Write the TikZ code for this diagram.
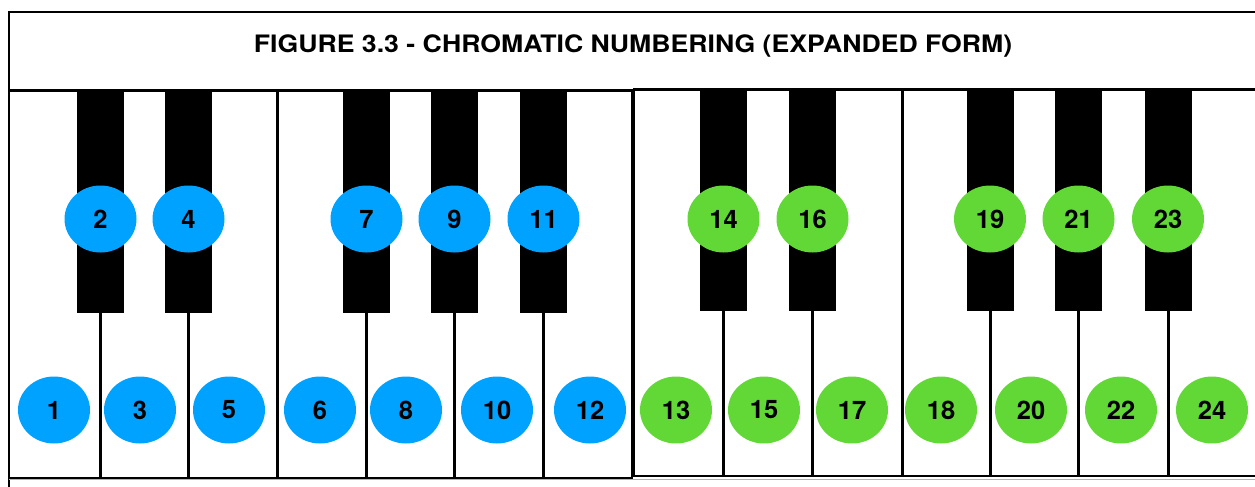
\documentclass[tikz,border=0pt]{standalone}
\usepackage{fontspec}
\setmainfont{TeX Gyre Heros}
\usetikzlibrary{positioning,shapes.geometric}
\definecolor{keyblue}{HTML}{00A2FF}
\definecolor{keygreen}{HTML}{61D836}
\tikzstyle{frame}=[draw=black,line width=2pt]
\tikzstyle{octave}=[rectangle,draw=black,line width=1.8pt,minimum height=387pt,inner sep=0pt]
\tikzstyle{blackkey}=[rectangle,fill=black,minimum width=47pt,minimum height=222pt,inner sep=0pt,anchor=north]
\tikzstyle{divider}=[draw=black,line width=3pt]
\tikzset{num/.style={ellipse,minimum width=72pt,minimum height=67pt,inner sep=0pt,
    font=\fontsize{25.5}{25.5}\selectfont\bfseries},
  bluenum/.style={num,fill=keyblue},
  greennum/.style={num,fill=keygreen}
}

\begin{document}
\begin{tikzpicture}[x=1pt,y=-1pt]
    \useasboundingbox (0,0) rectangle (1255,487);
    \clip (0,0) rectangle (1255,487);
    % title box
    \draw [frame] (9,487) -- (9,12) -- (1262,12);
    \draw [frame] (9,90) -- (1262,90);
    \draw [gray!60,line width=1.5pt] (9,479.5) -- (1262,479.5);
    \node [font=\fontsize{24}{24}\selectfont\bfseries,xscale=1.11] (title) at (633,46) {FIGURE 3.3 - CHROMATIC NUMBERING (EXPANDED FORM)};

    % the two octaves
    \node [octave,minimum width=623pt] (lowoct) at (320.5,284.5) {};
    \node [octave,minimum width=628pt] (highoct) at (948,282.5) {};

    % black keys
    \foreach \n/\x in {2/100.5,4/188.5,7/366.5,9/454.5,11/543.5}
      \node [blackkey] (b\n) at (\x,91) {};
    \foreach \n/\x in {14/723.5,16/812.5,19/990,21/1078.5,23/1168}
      \node [blackkey] (b\n) at (\x,89) {};

    % white key dividers
    \foreach \n in {2,4,7,9,11}
      \draw [divider] (b\n.south) -- (b\n.south |- lowoct.south);
    \foreach \n in {14,16,19,21,23}
      \draw [divider] (b\n.south) -- (b\n.south |- highoct.south);
    \coordinate (ef1) at (277,0);
    \coordinate (ef2) at (902,0);
    \draw [divider] (ef1 |- lowoct.north) -- (ef1 |- lowoct.south);
    \draw [divider] (ef2 |- highoct.north) -- (ef2 |- highoct.south);

    % numbers on the black keys
    \foreach \n in {2,4,7,9,11}
      \node [bluenum] (n\n) at (b\n.center |- 0,219) {\n};
    \foreach \n in {14,16,19,21,23}
      \node [greennum] (n\n) at (b\n.center |- 0,219) {\n};

    % numbers on the white keys
    \foreach \n/\x in {1/54,3/140,5/229,6/320,8/406,10/497,12/590}
      \node [bluenum] (n\n) at (\x,410) {\n};
    \foreach \n/\x in {13/676,15/764,17/852,18/941,20/1031,22/1121,24/1212}
      \node [greennum] (n\n) at (\x,410) {\n};
\end{tikzpicture}
\end{document}
